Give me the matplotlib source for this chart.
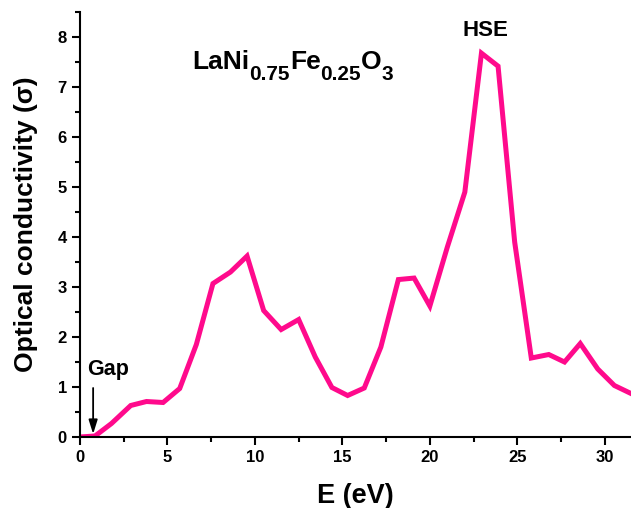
import matplotlib
matplotlib.use("Agg")
import matplotlib.pyplot as plt
from matplotlib.ticker import MultipleLocator

plt.rcParams['font.family'] = ['Liberation Sans', 'DejaVu Sans']
plt.rcParams['font.weight'] = 'bold'

energy = [0.0, 0.86, 1.8, 2.9, 3.8, 4.75, 5.7, 6.65, 7.6, 8.6, 9.55, 10.5, 11.5,
          12.5, 13.45, 14.4, 15.3, 16.25, 17.2, 18.2, 19.1, 20.0, 21.0, 22.0,
          22.95, 23.9, 24.85, 25.8, 26.8, 27.7, 28.6, 29.6, 30.55, 31.5]
sigma = [0.0, 0.02, 0.27, 0.63, 0.71, 0.69, 0.97, 1.85, 3.07, 3.3, 3.62, 2.53, 2.15,
         2.35, 1.6, 0.99, 0.83, 0.98, 1.8, 3.15, 3.18, 2.62, 3.8, 4.9,
         7.68, 7.42, 3.9, 1.58, 1.65, 1.5, 1.87, 1.36, 1.03, 0.87]

title_parts = [("LaNi", False), ("0.75", True), ("Fe", False), ("0.25", True),
               ("O", False), ("3", True)]

fig = plt.figure(figsize=(6.31, 5.08), dpi=100)
ax = fig.add_axes([0.1268, 0.1398, 0.8732, 0.8362])
ax.plot(energy, sigma, color='#FF0A8C', lw=3.6, solid_joinstyle='miter')

ax.set_xlim(0, 31.5)
ax.set_ylim(0, 8.5)
ax.xaxis.set_major_locator(MultipleLocator(5))
ax.xaxis.set_minor_locator(MultipleLocator(2.5))
ax.yaxis.set_major_locator(MultipleLocator(1))
ax.yaxis.set_minor_locator(MultipleLocator(0.5))
ax.spines['top'].set_visible(False)
ax.spines['right'].set_visible(False)
for s in ('left', 'bottom'):
    ax.spines[s].set_linewidth(1.5)
ax.tick_params(which='major', direction='out', length=6, width=1.5, labelsize=12)
ax.tick_params(which='minor', direction='out', length=3.5, width=1.5)
for lab in ax.get_xticklabels() + ax.get_yticklabels():
    lab.set_fontweight('bold')

ax.set_xlabel('E (eV)', fontsize=19.5, fontweight='bold', labelpad=13)
ax.set_ylabel('Optical conductivity (σ)', fontsize=19, fontweight='bold', labelpad=14)

# compound formula with manual subscripts
renderer = fig.canvas.get_renderer()
x0, y0 = 6.41, 7.36
off = 0.0
for s, sub in title_parts:
    fs = 15 if sub else 19
    dy = -7.5 if sub else 0.0
    t = ax.annotate(s, xy=(x0, y0), xycoords='data', xytext=(off, dy),
                    textcoords='offset points', fontsize=fs, fontweight='bold',
                    ha='left', va='baseline')
    w = t.get_window_extent(renderer).width
    off += w * 72.0 / fig.dpi

ax.text(23.18, 8.13, 'HSE', fontsize=16, fontweight='bold', ha='center', va='center')
ax.text(1.6, 1.35, 'Gap', fontsize=15.5, fontweight='bold', ha='center', va='center')
ax.annotate('', xy=(0.75, 0.06), xytext=(0.75, 0.98),
            arrowprops=dict(arrowstyle='-|>,head_length=0.7,head_width=0.22',
                            color='black', lw=1.3,
                            mutation_scale=12, shrinkA=0, shrinkB=0))

fig.savefig('out.png', dpi=100)
